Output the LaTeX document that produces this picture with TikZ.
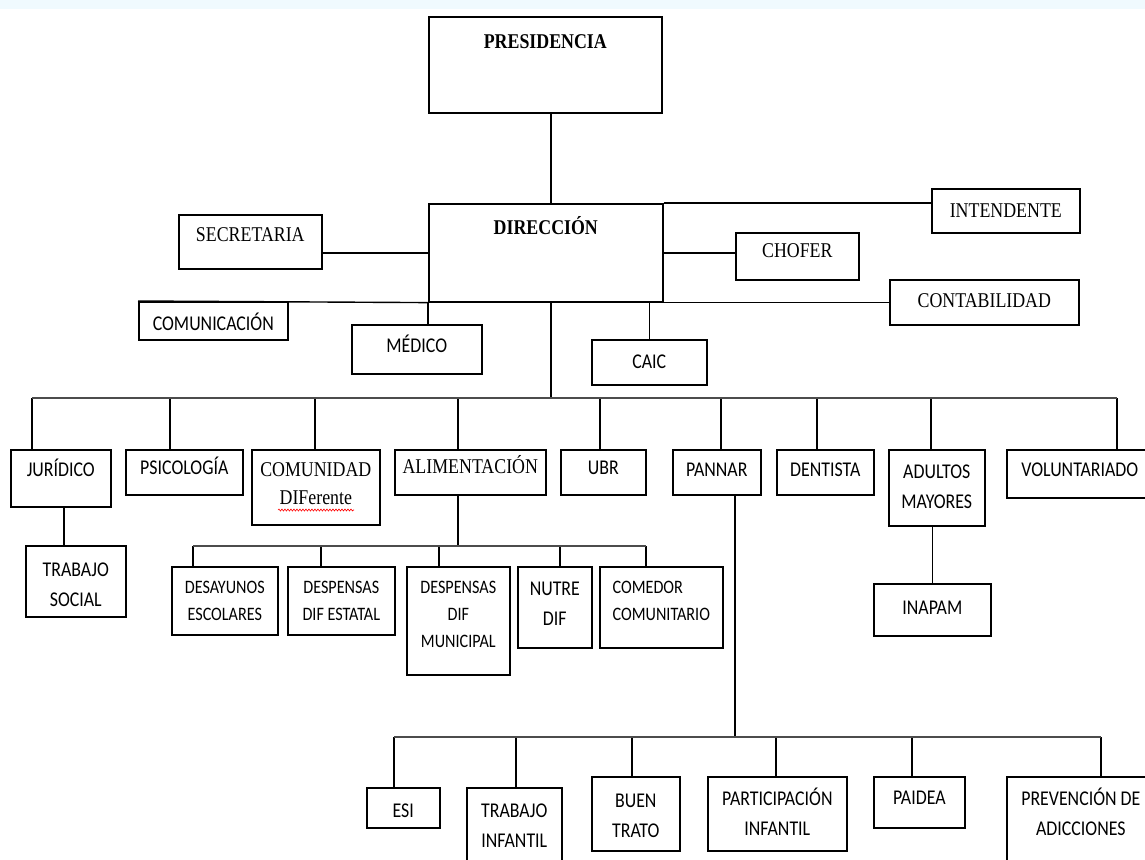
\documentclass[tikz,border=0pt]{standalone}
\usepackage{fontspec}
\setmainfont[FakeStretch=0.85]{Liberation Serif}
\newfontfamily\calib[FakeStretch=0.85]{Carlito}
\usetikzlibrary{positioning,calc,decorations.pathmorphing}

\tikzset{
	box/.style={draw, rectangle, line width=1.6pt, anchor=north west, inner sep=0pt},
	txt/.style={anchor=north, inner sep=0pt, align=center, font=\calib\fontsize{21}{30}\selectfont, execute at begin node=\rule{0pt}{20pt}},
	ser/.style={txt, font=\fontsize{21}{28}\selectfont},
	sml/.style={txt, font=\calib\fontsize{19}{27}\selectfont},
	link/.style={line width=1.4pt},
	bus/.style={line width=2.6pt, black!70},
}

\begin{document}
\begin{tikzpicture}[x=1pt, y=-1pt]
	\clip (0,0) rectangle (1145,859);
	\fill[white] (0,0) rectangle (1145,859);
	\fill[cyan!6] (0,0) rectangle (1145,9);

	% presidencia y direccion
	\node[box, minimum width=233pt, minimum height=96pt, label={[ser,yshift=-12pt]north:\textbf{PRESIDENCIA}}] (pres) at (428,16) {};
	\node[box, minimum width=234pt, minimum height=98pt, label={[ser,yshift=-11pt]north:\textbf{DIRECCIÓN}}] (dir) at (428,203) {};
	\node[box, minimum width=143pt, minimum height=54pt, label={[ser,yshift=-7pt]north:SECRETARIA}] (secr) at (178,214) {};
	\node[box, minimum width=148pt, minimum height=44pt, label={[ser,yshift=-9pt]north:INTENDENTE}] (inte) at (931,188) {};
	\node[box, minimum width=123pt, minimum height=47pt, label={[ser,yshift=-5pt]north:CHOFER}] (chof) at (735,232) {};
	\node[box, minimum width=189pt, minimum height=45pt, label={[ser,yshift=-8pt]north:CONTABILIDAD}] (conta) at (889,279) {};
	\node[box, minimum width=149pt, minimum height=38pt, label={[txt,yshift=-9pt]north:COMUNICACIÓN}] (comu) at (138,301) {};
	\node[box, minimum width=130pt, minimum height=49pt, label={[txt,yshift=-8pt]north:MÉDICO}] (medi) at (351,324) {};
	\node[box, minimum width=115pt, minimum height=45pt, label={[txt,yshift=-9pt]north:CAIC}] (caic) at (591,339) {};

	\coordinate (top) at (551,398);
	\draw[link] (top |- pres.south) -- (top |- dir.north);
	\draw[link] (dir.north east) -- (dir.north east -| inte.west);
	\draw[link] (dir.west) -- (dir.west -| secr.east);
	\draw[link] (dir.east) -- (dir.east -| chof.west);
	\draw[link] (comu.north west) -- (dir.south west);
	\draw[link] (dir.south east) -- (dir.south east -| conta.west);
	\draw[link] (dir.south west) -- (dir.south west |- medi.north);
	\draw[link] (caic.north) -- (caic.north |- dir.south);
	\draw[link] (top |- dir.south) -- (top);

	% areas
	\node[box, minimum width=100pt, minimum height=57pt, label={[txt,yshift=-7pt]north:JURÍDICO}] (jur) at (10,449) {};
	\node[box, minimum width=117pt, minimum height=45pt, label={[txt,yshift=-5pt]north:PSICOLOGÍA}] (psi) at (125,449) {};
	\node[box, minimum width=128pt, minimum height=75pt, label={[ser,yshift=-13pt]north:{COMUNIDAD\\DIFerente}}] (comd) at (251,449) {};
	\node[box, minimum width=151pt, minimum height=45pt, label={[ser,yshift=-4pt]north:ALIMENTACIÓN}] (alim) at (394,449) {};
	\node[box, minimum width=85pt, minimum height=45pt, label={[txt,yshift=-5pt]north:UBR}] (ubr) at (560,449) {};
	\node[box, minimum width=88pt, minimum height=45pt, label={[txt,yshift=-7pt]north:PANNAR}] (pan) at (672,449) {};
	\node[box, minimum width=97pt, minimum height=45pt, label={[txt,yshift=-7pt]north:DENTISTA}] (dent) at (776,449) {};
	\node[box, minimum width=96pt, minimum height=76pt, label={[txt,yshift=-16pt]north:{ADULTOS\\MAYORES}}] (adul) at (888,449) {};
	\node[box, minimum width=146pt, minimum height=48pt, label={[txt,yshift=-7pt]north:VOLUNTARIADO}] (volu) at (1006,449) {};
	\draw[red, line width=0.6pt, decorate, decoration={snake, amplitude=1pt, segment length=3pt}] (278,510) -- (354,510);

	\foreach \n/\x in {jur/32, psi/170, comd/315, alim/458, ubr/600, pan/721, dent/817, adul/931, volu/1117} {
		\coordinate (d\n) at (\x,398);
		\draw[link] (d\n) -- (d\n |- \n.north);
	}
	\draw[bus] (djur) -- (dvolu);

	% dependencias
	\node[box, minimum width=100pt, minimum height=71pt, label={[txt,yshift=-18pt]north:{TRABAJO\\SOCIAL}}] (trsoc) at (25,545) {};
	\draw[link] ([xshift=3pt]jur.south) -- ([xshift=3pt]jur.south |- trsoc.north);
	\node[box, minimum width=117pt, minimum height=52pt, label={[txt,yshift=-11pt]north:INAPAM}] (inap) at (873,583) {};
	\draw[link] (inap.north) -- (inap.north |- adul.south);

	% alimentacion
	\node[box, minimum width=106pt, minimum height=68pt, label={[sml,yshift=-15pt]north:{DESAYUNOS\\ESCOLARES}}] (desa) at (171,566) {};
	\node[box, minimum width=107pt, minimum height=68pt, label={[sml,yshift=-15pt]north:{DESPENSAS\\DIF ESTATAL}}] (dest) at (287,566) {};
	\node[box, minimum width=103pt, minimum height=108pt, label={[sml,yshift=-15pt]north:{DESPENSAS\\DIF\\MUNICIPAL}}] (demu) at (406,566) {};
	\node[box, minimum width=74pt, minimum height=81pt, label={[txt,yshift=-16pt]north:{NUTRE\\DIF}}] (nutr) at (517,566) {};
	\node[box, minimum width=123pt, minimum height=81pt, label={[sml,align=left,yshift=-15pt]north:{COMEDOR\\COMUNITARIO}}] (come) at (599,566) {};

	\coordinate (abus) at (458,546);
	\draw[link] (abus |- alim.south) -- (abus);
	\foreach \n/\x in {desa/193, dest/321, demu/439, nutr/560, come/646} {
		\coordinate (a\n) at (\x,546);
		\draw[link] (a\n) -- (a\n |- \n.north);
	}
	\draw[bus] (adesa) -- (acome);

	% pannar
	\node[box, minimum width=73pt, minimum height=40pt, label={[txt,yshift=-10pt]north:ESI}] (esi) at (366,787) {};
	\node[box, minimum width=95pt, minimum height=90pt, label={[txt,yshift=-17pt]north:{TRABAJO\\INFANTIL}}] (trin) at (466,787) {};
	\node[box, minimum width=88pt, minimum height=74pt, label={[txt,yshift=-18pt]north:{BUEN\\TRATO}}] (buen) at (591,776) {};
	\node[box, minimum width=139pt, minimum height=74pt, label={[txt,yshift=-12pt]north:{PARTICIPACIÓN\\INFANTIL}}] (part) at (707,776) {};
	\node[box, minimum width=91pt, minimum height=51pt, label={[txt,yshift=-8pt]north:PAIDEA}] (paid) at (873,776) {};
	\node[box, minimum width=148pt, minimum height=100pt, label={[txt,yshift=-12pt]north:{PREVENCIÓN DE\\ADICCIONES}}] (prev) at (1006,776) {};

	\coordinate (pbus) at (735,737);
	\draw[link] (pbus |- pan.south) -- (pbus);
	\foreach \n/\x in {esi/394, trin/516, buen/632, part/776, paid/912, prev/1101} {
		\coordinate (p\n) at (\x,737);
		\draw[link] (p\n) -- (p\n |- \n.north);
	}
	\draw[bus] (pesi) -- (pprev);
\end{tikzpicture}
\end{document}
